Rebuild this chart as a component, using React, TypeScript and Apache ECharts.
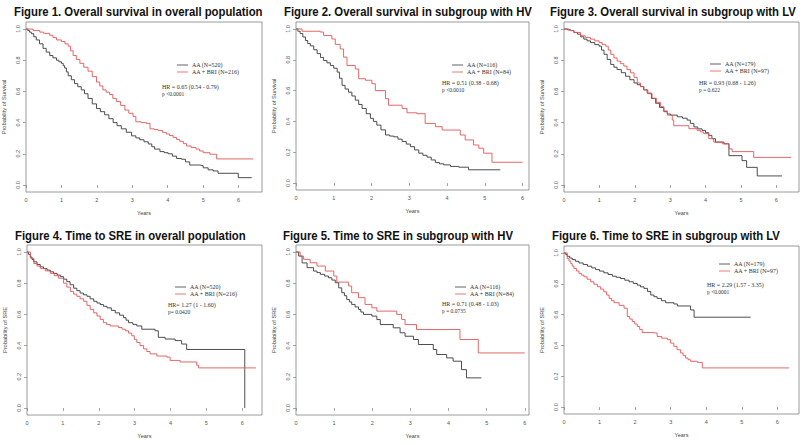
import React, { useEffect, useRef } from "react";
import * as echarts from "echarts";

type Pt = [number, number];

// ---- Figure 1: Overall survival, overall population
const f1AA: Pt[] = [[0,1],[0.05,0.99],[0.1,0.98],[0.15,0.97],[0.22,0.95],[0.29,0.93],[0.38,0.905],[0.48,0.876],[0.57,0.852],[0.67,0.83],[0.76,0.815],[0.86,0.8],[0.93,0.79],[1.0,0.78],[1.05,0.765],[1.09,0.75],[1.14,0.725],[1.19,0.7],[1.28,0.675],[1.37,0.65],[1.46,0.63],[1.56,0.61],[1.65,0.585],[1.75,0.555],[1.87,0.52],[1.99,0.49],[2.1,0.47],[2.22,0.45],[2.34,0.425],[2.46,0.4],[2.57,0.38],[2.69,0.36],[2.83,0.338],[2.98,0.315],[3.1,0.302],[3.21,0.29],[3.33,0.277],[3.45,0.263],[3.55,0.245],[3.63,0.23],[3.78,0.214],[3.9,0.207],[4.01,0.2],[4.13,0.185],[4.25,0.17],[4.39,0.165],[4.5,0.148],[4.62,0.128],[4.9,0.124],[5.0,0.11],[5.14,0.097],[5.28,0.09],[5.42,0.075],[5.99,0.047],[6.37,0.047]];
const f1BRI: Pt[] = [[0,1],[0.2,0.99],[0.39,0.98],[0.5,0.972],[0.67,0.96],[0.76,0.945],[0.86,0.93],[1.0,0.92],[1.1,0.905],[1.19,0.89],[1.26,0.86],[1.33,0.83],[1.42,0.805],[1.52,0.78],[1.63,0.755],[1.75,0.73],[1.87,0.695],[1.99,0.66],[2.08,0.635],[2.17,0.61],[2.26,0.595],[2.36,0.58],[2.45,0.555],[2.55,0.535],[2.67,0.51],[2.79,0.48],[2.9,0.46],[3.02,0.44],[3.1,0.405],[3.25,0.4],[3.4,0.395],[3.5,0.36],[3.62,0.355],[3.73,0.35],[3.85,0.338],[3.96,0.327],[4.05,0.317],[4.15,0.305],[4.25,0.292],[4.34,0.28],[4.44,0.265],[4.53,0.25],[4.66,0.24],[4.8,0.23],[4.9,0.218],[5.0,0.207],[5.19,0.197],[5.38,0.167],[6.41,0.167]];
// ---- Figure 2: Overall survival, HV
const f2AA: Pt[] = [[0,1],[0.05,0.985],[0.11,0.97],[0.18,0.948],[0.25,0.925],[0.31,0.905],[0.38,0.89],[0.47,0.865],[0.56,0.84],[0.65,0.815],[0.73,0.795],[0.82,0.78],[0.91,0.763],[1.0,0.745],[1.09,0.72],[1.15,0.68],[1.22,0.634],[1.3,0.61],[1.39,0.59],[1.48,0.565],[1.57,0.538],[1.66,0.51],[1.75,0.484],[1.86,0.45],[1.97,0.42],[2.05,0.4],[2.14,0.376],[2.25,0.345],[2.37,0.312],[2.48,0.305],[2.59,0.3],[2.7,0.285],[2.81,0.27],[2.92,0.253],[3.03,0.236],[3.14,0.215],[3.25,0.194],[3.36,0.18],[3.47,0.168],[3.58,0.15],[3.69,0.133],[3.8,0.125],[3.91,0.118],[4.09,0.108],[4.31,0.103],[4.57,0.086],[5.41,0.086]];
const f2BRI: Pt[] = [[0,1],[0.16,0.985],[0.64,0.98],[0.73,0.957],[0.95,0.935],[1.04,0.9],[1.17,0.87],[1.26,0.817],[1.35,0.763],[1.57,0.74],[1.66,0.677],[1.84,0.667],[2.01,0.645],[2.1,0.6],[2.37,0.548],[2.45,0.505],[2.81,0.484],[2.94,0.456],[3.2,0.45],[3.42,0.387],[3.69,0.366],[3.87,0.344],[4.35,0.312],[4.48,0.28],[4.7,0.247],[4.84,0.226],[4.97,0.194],[5.19,0.135],[6.0,0.135]];
// ---- Figure 3: Overall survival, LV
const f3AA: Pt[] = [[0,1],[0.1,0.995],[0.19,0.99],[0.28,0.978],[0.38,0.967],[0.47,0.95],[0.56,0.935],[0.65,0.924],[0.75,0.913],[0.87,0.9],[0.99,0.89],[1.06,0.865],[1.13,0.838],[1.22,0.805],[1.32,0.773],[1.41,0.755],[1.5,0.74],[1.62,0.72],[1.74,0.697],[1.86,0.675],[1.98,0.654],[2.07,0.643],[2.16,0.632],[2.25,0.61],[2.35,0.589],[2.47,0.555],[2.59,0.524],[2.7,0.497],[2.82,0.47],[2.92,0.455],[3.01,0.448],[3.2,0.437],[3.35,0.428],[3.48,0.416],[3.57,0.395],[3.67,0.372],[3.78,0.36],[3.9,0.35],[4.0,0.335],[4.09,0.318],[4.18,0.297],[4.28,0.275],[4.52,0.264],[4.66,0.188],[5.03,0.156],[5.16,0.113],[5.46,0.058],[6.16,0.058]];
const f3BRI: Pt[] = [[0,1],[0.15,0.99],[0.28,0.978],[0.47,0.957],[0.6,0.945],[0.75,0.935],[0.87,0.924],[0.99,0.913],[1.08,0.9],[1.18,0.89],[1.25,0.865],[1.32,0.838],[1.41,0.815],[1.5,0.794],[1.6,0.778],[1.69,0.762],[1.78,0.74],[1.88,0.719],[1.98,0.69],[2.07,0.654],[2.16,0.63],[2.26,0.61],[2.37,0.585],[2.49,0.556],[2.61,0.53],[2.73,0.502],[2.82,0.475],[2.92,0.448],[3.06,0.416],[3.1,0.38],[3.53,0.361],[3.76,0.35],[3.86,0.34],[3.95,0.329],[4.09,0.297],[4.23,0.275],[4.47,0.264],[4.66,0.232],[4.75,0.214],[5.36,0.177],[6.42,0.177]];
// ---- Figure 4: Time to SRE, overall population
const f4AA: Pt[] = [[0,1],[0.04,0.985],[0.09,0.968],[0.14,0.952],[0.19,0.937],[0.28,0.92],[0.37,0.905],[0.46,0.894],[0.56,0.884],[0.65,0.873],[0.74,0.863],[0.84,0.852],[0.93,0.842],[1.02,0.826],[1.11,0.81],[1.2,0.79],[1.3,0.768],[1.39,0.752],[1.48,0.737],[1.57,0.726],[1.67,0.716],[1.76,0.7],[1.86,0.684],[1.95,0.673],[2.04,0.663],[2.13,0.652],[2.23,0.642],[2.35,0.626],[2.46,0.61],[2.58,0.595],[2.69,0.579],[2.76,0.563],[2.83,0.547],[2.95,0.536],[3.06,0.526],[3.2,0.505],[3.57,0.495],[3.66,0.453],[3.85,0.442],[4.13,0.432],[4.31,0.41],[4.45,0.375],[6.07,0.0]];
const f4BRI: Pt[] = [[0,1],[0.1,0.96],[0.19,0.926],[0.28,0.91],[0.37,0.895],[0.51,0.879],[0.65,0.863],[0.76,0.848],[0.88,0.832],[1.02,0.8],[1.11,0.775],[1.21,0.747],[1.3,0.73],[1.39,0.716],[1.48,0.7],[1.58,0.684],[1.67,0.658],[1.76,0.632],[1.86,0.61],[1.95,0.59],[2.04,0.568],[2.13,0.547],[2.22,0.535],[2.32,0.526],[2.55,0.516],[2.65,0.505],[2.74,0.495],[2.83,0.48],[2.92,0.463],[2.99,0.44],[3.06,0.42],[3.15,0.4],[3.25,0.379],[3.34,0.362],[3.43,0.347],[3.62,0.333],[3.9,0.326],[3.99,0.305],[4.27,0.295],[4.73,0.274],[4.78,0.257],[6.38,0.257]];
// ---- Figure 5: Time to SRE, HV
const f5AA: Pt[] = [[0,1],[0.07,0.974],[0.16,0.93],[0.29,0.9],[0.46,0.878],[0.55,0.868],[0.64,0.857],[0.75,0.846],[0.85,0.835],[0.94,0.82],[1.03,0.803],[1.12,0.77],[1.2,0.739],[1.27,0.72],[1.33,0.696],[1.4,0.68],[1.46,0.664],[1.55,0.648],[1.64,0.632],[1.7,0.615],[1.77,0.6],[1.99,0.589],[2.12,0.567],[2.21,0.535],[2.55,0.514],[2.73,0.482],[2.86,0.46],[3.08,0.439],[3.21,0.407],[3.6,0.375],[3.69,0.343],[3.95,0.321],[4.12,0.3],[4.34,0.246],[4.47,0.193],[4.86,0.193]];
const f5BRI: Pt[] = [[0,1],[0.11,0.974],[0.2,0.953],[0.37,0.931],[0.55,0.91],[0.77,0.878],[0.99,0.846],[1.07,0.807],[1.38,0.782],[1.46,0.739],[1.64,0.707],[1.81,0.664],[1.99,0.642],[2.12,0.621],[2.64,0.6],[2.77,0.568],[2.86,0.535],[3.16,0.503],[4.3,0.439],[4.78,0.353],[6.0,0.353]];
// ---- Figure 6: Time to SRE, LV
const f6AA: Pt[] = [[0,1],[0.05,0.99],[0.09,0.978],[0.16,0.967],[0.23,0.957],[0.32,0.946],[0.42,0.935],[0.54,0.925],[0.66,0.914],[0.78,0.903],[0.89,0.892],[1.0,0.882],[1.12,0.871],[1.24,0.86],[1.36,0.849],[1.47,0.842],[1.59,0.834],[1.71,0.823],[1.83,0.813],[1.95,0.802],[2.06,0.791],[2.15,0.78],[2.25,0.77],[2.35,0.75],[2.44,0.727],[2.53,0.716],[2.62,0.705],[2.74,0.69],[2.86,0.677],[3.09,0.669],[3.19,0.656],[3.56,0.63],[3.66,0.583],[5.25,0.583]];
const f6BRI: Pt[] = [[0,1],[0.09,0.963],[0.14,0.947],[0.19,0.931],[0.23,0.915],[0.28,0.899],[0.35,0.883],[0.42,0.867],[0.49,0.856],[0.56,0.845],[0.65,0.829],[0.75,0.813],[0.84,0.797],[0.94,0.781],[1.03,0.765],[1.12,0.748],[1.2,0.727],[1.27,0.705],[1.34,0.69],[1.41,0.677],[1.55,0.66],[1.69,0.641],[1.78,0.587],[1.85,0.571],[1.92,0.555],[1.99,0.539],[2.06,0.523],[2.13,0.503],[2.2,0.484],[2.44,0.48],[2.62,0.458],[2.75,0.447],[2.91,0.437],[3.0,0.415],[3.09,0.394],[3.18,0.372],[3.28,0.351],[3.35,0.335],[3.42,0.318],[3.49,0.307],[3.56,0.297],[3.75,0.29],[3.89,0.254],[6.33,0.254]];

const titles = [
  "Figure 1. Overall survival in overall population",
  "Figure 2. Overall survival in subgroup with HV",
  "Figure 3. Overall survival in subgroup with LV",
  "Figure 4. Time to SRE in overall population",
  "Figure 5. Time to SRE in subgroup with HV",
  "Figure 6. Time to SRE in subgroup with LV",
];
const yNames = [
  "Probability of Survival", "Probability of Survival", "Probability of Survival",
  "Probability of SRE", "Probability of SRE", "Probability of SRE",
];
const aaLabels = ["AA (N=520)", "AA (N=116)", "AA (N=179)", "AA (N=520)", "AA (N=116)", "AA (N=179)"];
const briLabels = ["AA + BRI (N=216)", "AA + BRI (N=84)", "AA + BRI (N=97)", "AA + BRI (N=216)", "AA + BRI (N=84)", "AA + BRI (N=97)"];
const hrLabels = [
  "HR = 0.65 (0.54 - 0.79)", "HR = 0.51 (0.38 - 0.68)", "HR = 0.93 (0.68 - 1.26)",
  "HR= 1.27 (1 - 1.60)", "HR = 0.71 (0.48 - 1.03)", "HR = 2.29 (1.57 - 3.35)",
];
const pLabels = ["p <0.0001", "p <0.0010", "p = 0.622", "p= 0.0420", "p = 0.0735", "p <0.0001"];
const aaData = [f1AA, f2AA, f3AA, f4AA, f5AA, f6AA];
const briData = [f1BRI, f2BRI, f3BRI, f4BRI, f5BRI, f6BRI];
const xTicks = [0, 1, 2, 3, 4, 5, 6];
const yTicks = [0, 0.2, 0.4, 0.6, 0.8, 1.0];

// layout (pixels) per panel
const layout = [
  { left: 26, top: 22, width: 236, height: 170, xMax: 6.66, tx: 14, ty: 11, lx: 177, ly: 65, hx: 162, hy: 87 },
  { left: 296, top: 22, width: 233, height: 168, xMax: 6.17, tx: 284, ty: 11, lx: 452, ly: 65, hx: 442, hy: 83 },
  { left: 564, top: 22, width: 235, height: 170, xMax: 6.64, tx: 550, ty: 11, lx: 710, ly: 64, hx: 699, hy: 83 },
  { left: 27, top: 245, width: 235, height: 170, xMax: 6.55, tx: 15, ty: 235, lx: 175, ly: 287, hx: 168, hy: 305 },
  { left: 296, top: 245, width: 233, height: 170, xMax: 6.11, tx: 283, ty: 235, lx: 455, ly: 287, hx: 442, hy: 304 },
  { left: 564, top: 246, width: 235, height: 168, xMax: 6.61, tx: 552, ty: 235, lx: 719, ly: 264, hx: 707, hy: 285 },
];

const BLACK = "#3a3a3a";
const RED = "#e35656";
const AXIS = "#808080";

export default function App() {
  const ref = useRef<HTMLDivElement>(null);
  useEffect(() => {
    if (!ref.current) return;
    const chart = echarts.init(ref.current, undefined, { renderer: "svg" });
    const grid: any[] = [];
    const xAxis: any[] = [];
    const yAxis: any[] = [];
    const series: any[] = [];
    const graphic: any[] = [];
    layout.forEach((L, i) => {
      grid.push({
        left: L.left, top: L.top, width: L.width, height: L.height,
        show: true, borderColor: AXIS, borderWidth: 0.8, backgroundColor: "transparent",
      });
      xAxis.push({
        type: "value", gridIndex: i, min: 0, max: L.xMax,
        name: "Years", nameLocation: "middle", nameGap: 18,
        nameTextStyle: { fontSize: 5.5, color: "#444", fontFamily: "Liberation Sans" },
        axisLine: { show: false }, splitLine: { show: false },
        axisTick: { show: true, length: 3, customValues: xTicks, lineStyle: { color: AXIS, width: 0.7 } },
        axisLabel: { customValues: xTicks, fontSize: 5.5, color: "#555", margin: 5, fontFamily: "Liberation Sans" },
      });
      yAxis.push({
        type: "value", gridIndex: i, min: -0.045, max: 1.045,
        name: yNames[i], nameLocation: "middle", nameGap: 19,
        nameTextStyle: { fontSize: 5.7, color: "#444", fontFamily: "Liberation Sans" },
        axisLine: { show: false }, splitLine: { show: false },
        axisTick: { show: true, length: 3, customValues: yTicks, lineStyle: { color: AXIS, width: 0.7 } },
        axisLabel: {
          customValues: yTicks, rotate: 90, fontSize: 5.5, color: "#555", margin: 5,
          fontFamily: "Liberation Sans", formatter: (v: number) => v.toFixed(1),
        },
      });
      series.push({
        type: "line", name: aaLabels[i], xAxisIndex: i, yAxisIndex: i, data: aaData[i],
        step: "end", showSymbol: false, lineStyle: { color: BLACK, width: 0.9 }, itemStyle: { color: BLACK },
      });
      series.push({
        type: "line", name: briLabels[i], xAxisIndex: i, yAxisIndex: i, data: briData[i],
        step: "end", showSymbol: false, lineStyle: { color: RED, width: 0.9 }, itemStyle: { color: RED },
      });
      graphic.push({
        type: "text", x: L.tx, y: L.ty, scaleX: 0.945,
        style: { text: titles[i], fontSize: 12, fontWeight: "bold", fontFamily: "Liberation Sans", fill: "#111", verticalAlign: "middle" },
      });
      const textStyle = { fontSize: 6, fontFamily: "Liberation Serif", fill: "#333", verticalAlign: "middle" };
      graphic.push({ type: "line", shape: { x1: L.lx, y1: L.ly, x2: L.lx + 11, y2: L.ly }, style: { stroke: BLACK, lineWidth: 0.8 } });
      graphic.push({ type: "line", shape: { x1: L.lx, y1: L.ly + 7, x2: L.lx + 11, y2: L.ly + 7 }, style: { stroke: RED, lineWidth: 0.8 } });
      graphic.push({ type: "text", x: L.lx + 15, y: L.ly, style: { ...textStyle, text: aaLabels[i] } });
      graphic.push({ type: "text", x: L.lx + 15, y: L.ly + 7, style: { ...textStyle, text: briLabels[i] } });
      graphic.push({ type: "text", x: L.hx, y: L.hy, style: { ...textStyle, text: hrLabels[i] } });
      graphic.push({ type: "text", x: L.hx, y: L.hy + 7, style: { ...textStyle, text: pLabels[i], fontSize: 5.5 } });
    });
    chart.setOption({
      animation: false,
      backgroundColor: "#fff",
      grid, xAxis, yAxis, series, graphic,
    });
    return () => chart.dispose();
  }, []);
  return <div ref={ref} style={{ position: "fixed", left: 0, top: 0, width: 807, height: 445, background: "#fff" }} />;
}
